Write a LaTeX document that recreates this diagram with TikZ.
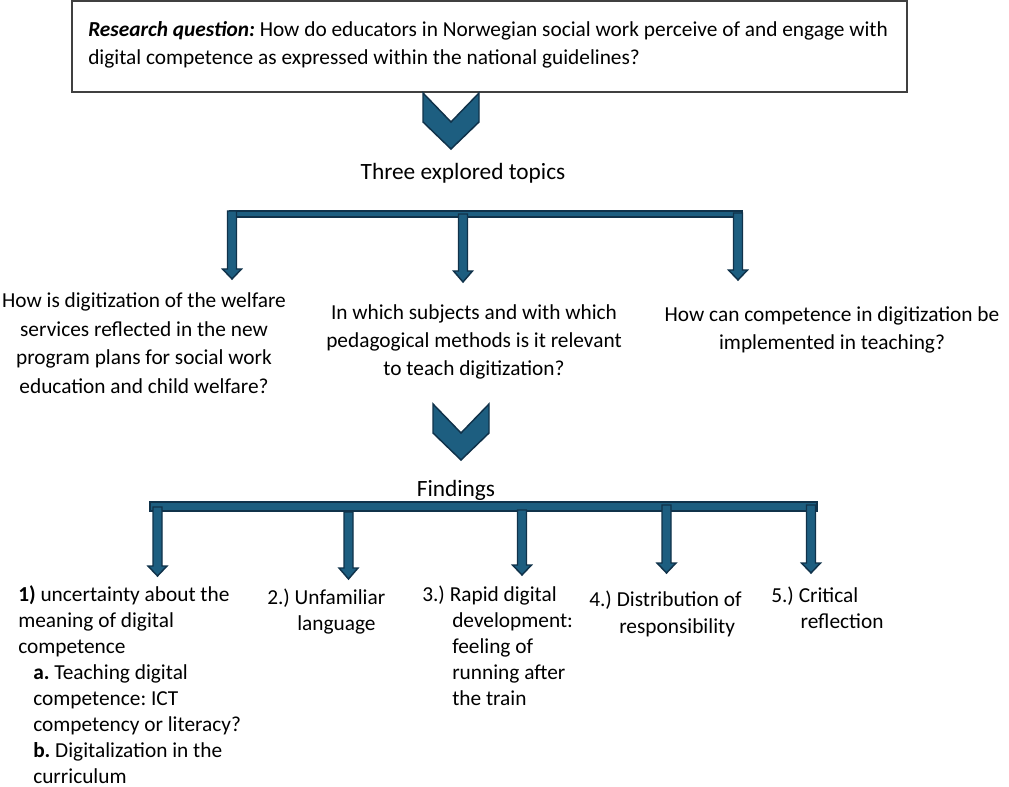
\documentclass[tikz,border=0pt]{standalone}
\usepackage{fontspec}
\setmainfont{Carlito}
\frenchspacing
\definecolor{arrfill}{HTML}{1D5E80}
\definecolor{arrline}{HTML}{10324A}
\definecolor{boxline}{HTML}{404040}
\newcommand{\blockarrow}[4]{%
  \draw[blk] (#1-4.5,#2) -- (#1+4.5,#2) -- (#1+4.5,#3) -- (#1+9.5,#3) -- (#1,#4) -- (#1-9.5,#3) -- (#1-4.5,#3) -- cycle;}
\begin{document}
\frenchspacing
\begin{tikzpicture}[x=0.75pt,y=-0.75pt,
  blk/.style={fill=arrfill,draw=arrline,line width=1.1pt,line join=miter},
  txt/.style={inner sep=0pt,font=\fontsize{16}{19.5}\selectfont},
  head/.style={inner sep=0pt,font=\fontsize{17.5}{21}\selectfont}]
\useasboundingbox (0,0) rectangle (1009,787);
% research question box
\draw[boxline,line width=0.9pt] (72,1) rectangle (907,92);
\node[txt,anchor=base west,align=left,font=\fontsize{16}{21}\selectfont] (rq) at (88,65)
  {\textbf{\textit{Research question:}} How do educators in Norwegian social work perceive of and engage with\\
   digital competence as expressed within the national guidelines?};
% chevrons
\draw[blk] (423,93) -- (451,122) -- (479,93) -- (479,122) -- (451,149) -- (423,122) -- cycle;
\draw[blk] (433,404) -- (461,433) -- (489,404) -- (489,433) -- (461,460) -- (433,433) -- cycle;
% headings
\node[head,anchor=base] (topics) at (463,180) {Three explored topics};
\node[head,anchor=base] (find) at (456,496) {Findings};
% top bracket
\draw[blk] (230,211) rectangle (742,217);
\blockarrow{232}{211}{269}{279}
\blockarrow{463}{214}{271}{282}
\blockarrow{738}{213}{270}{280}
% topics
\node[txt,anchor=base,align=center,font=\fontsize{16}{21.4}\selectfont] (t1) at (144,393.5)
  {How is digitization of the welfare\\ services reflected in the new\\ program plans for social work\\ education and child welfare?};
\node[txt,anchor=base,align=center,font=\fontsize{16}{21}\selectfont] (t2) at (474,376)
  {In which subjects and with which\\ pedagogical methods is it relevant\\ to teach digitization?};
\node[txt,anchor=base,align=center,font=\fontsize{16}{21}\selectfont] (t3) at (832,350)
  {How can competence in digitization be\\ implemented in teaching?};
% bottom bracket
\draw[blk] (150,502) rectangle (817,511);
\blockarrow{157.5}{507}{566}{576}
\blockarrow{348.5}{512}{568}{579}
\blockarrow{522}{510}{565}{575}
\blockarrow{666.5}{505}{563}{573}
\blockarrow{811}{505}{563}{573}
% findings
\node[txt,anchor=base west,align=left] (f1) at (18,783)
  {\textbf{1)} uncertainty about the\\ meaning of digital\\ competence\\
   \hspace*{11.25pt}\textbf{a.} Teaching digital\\ \hspace*{11.25pt}competence: ICT\\
   \hspace*{11.25pt}competency or literacy?\\ \hspace*{11.25pt}\textbf{b.} Digitalization in the\\
   \hspace*{11.25pt}curriculum};
\node[txt,anchor=base west,align=left] (f2) at (267,630)
  {2.) Unfamiliar\\ \hspace*{22.5pt}language};
\node[txt,anchor=base west,align=left] (f3) at (422,705)
  {3.) Rapid digital\\ \hspace*{22.5pt}development:\\ \hspace*{22.5pt}feeling of\\ \hspace*{22.5pt}running after\\ \hspace*{22.5pt}the train};
\node[txt,anchor=base west,align=left,font=\fontsize{16}{20.25}\selectfont] (f4) at (589,633)
  {4.) Distribution of\\ \hspace*{22.5pt}responsibility};
\node[txt,anchor=base west,align=left] (f5) at (771,628)
  {5.) Critical\\ \hspace*{22pt}reflection};
\end{tikzpicture}
\end{document}
